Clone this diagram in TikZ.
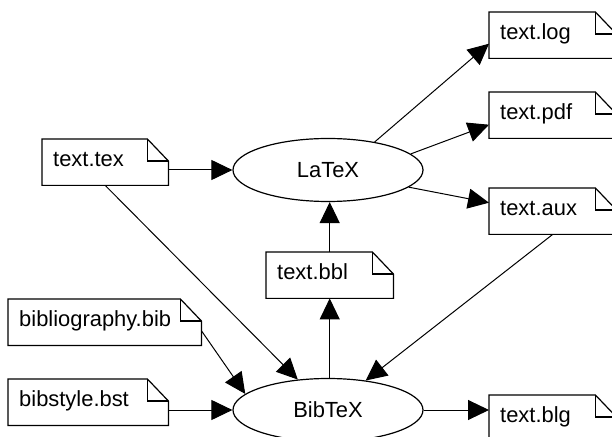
\documentclass[tikz,border=0pt]{standalone}
\usepackage{fontspec}
\setmainfont{Liberation Sans}
\usetikzlibrary{arrows.meta}
\usetikzlibrary{shapes.geometric}

\begin{document}
\begin{tikzpicture}[x=1bp,y=-1bp]
  \tikzset{
    file/.style={rectangle,anchor=north west,inner xsep=11bp,inner ysep=0pt,
      text width=#1,align=left,minimum height=46bp,text height=16bp,text depth=7bp,
      font=\fontsize{22}{26}\selectfont},
    prog/.style={ellipse,draw,line width=1.2bp,minimum width=190bp,minimum height=63bp,
      inner sep=0pt,font=\fontsize{22}{26}\selectfont},
    arr/.style={line width=1bp,-{Triangle[length=21bp,width=20bp]}}
  }
    \useasboundingbox (0,0) rectangle (612,437);
    \clip (0,0) rectangle (612,437);

    %PROGRAMS
    \node[prog] (latex) at (328,170) {LaTeX};
    \node[prog] (bibtex) at (328,410) {BibTeX};

    %FILES
    \node[file=104bp] (tex) at (42,139) {text.tex};
    \node[file=105bp] (log) at (489,12) {text.log};
    \node[file=105bp] (pdf) at (489,92) {text.pdf};
    \node[file=105bp] (aux) at (489,188) {text.aux};
    \node[file=105bp] (bbl) at (266,252) {text.bbl};
    \node[file=171bp] (bib) at (8,299) {bibliography.bib};
    \node[file=138bp] (bst) at (8,379) {bibstyle.bst};
    \node[file=105bp] (blg) at (489,395) {text.blg};
    \foreach \f in {tex,log,pdf,aux,bbl,bib,bst,blg} {
      \draw[line width=1.2bp] (\f.north west) -- ([xshift=-21bp]\f.north east)
        -- ([yshift=-22bp]\f.north east) -- (\f.south east) -- (\f.south west) -- cycle;
      \draw[line width=1.2bp] ([xshift=-21bp]\f.north east) |- ([yshift=-22bp]\f.north east);
    }

    %ARROWS
    \draw[arr] (tex.east |- latex.west) -- (latex.west);
    \draw[arr] (latex.31) -- ([yshift=-8.5bp]log.west);
    \draw[arr] (latex.11) -- ([yshift=-9.5bp]pdf.west);
    \draw[arr] (latex.348) -- ([yshift=8.5bp]aux.west);
    \draw[arr] (bbl.north) -- (bbl.north |- latex.south);
    \draw[arr] (bbl.south |- bibtex.north) -- (bbl.south);
    \draw[arr] (tex.south) -- (bibtex);
    \draw[arr] (aux.south) -- (bibtex);
    \draw[arr] ([yshift=-8.5bp]bib.east) -- (bibtex.169);
    \draw[arr] (bst.east |- bibtex.west) -- (bibtex.west);
    \draw[arr] (bibtex.east) -- (bibtex.east -| blg.west);
  \end{tikzpicture}
\end{document}
